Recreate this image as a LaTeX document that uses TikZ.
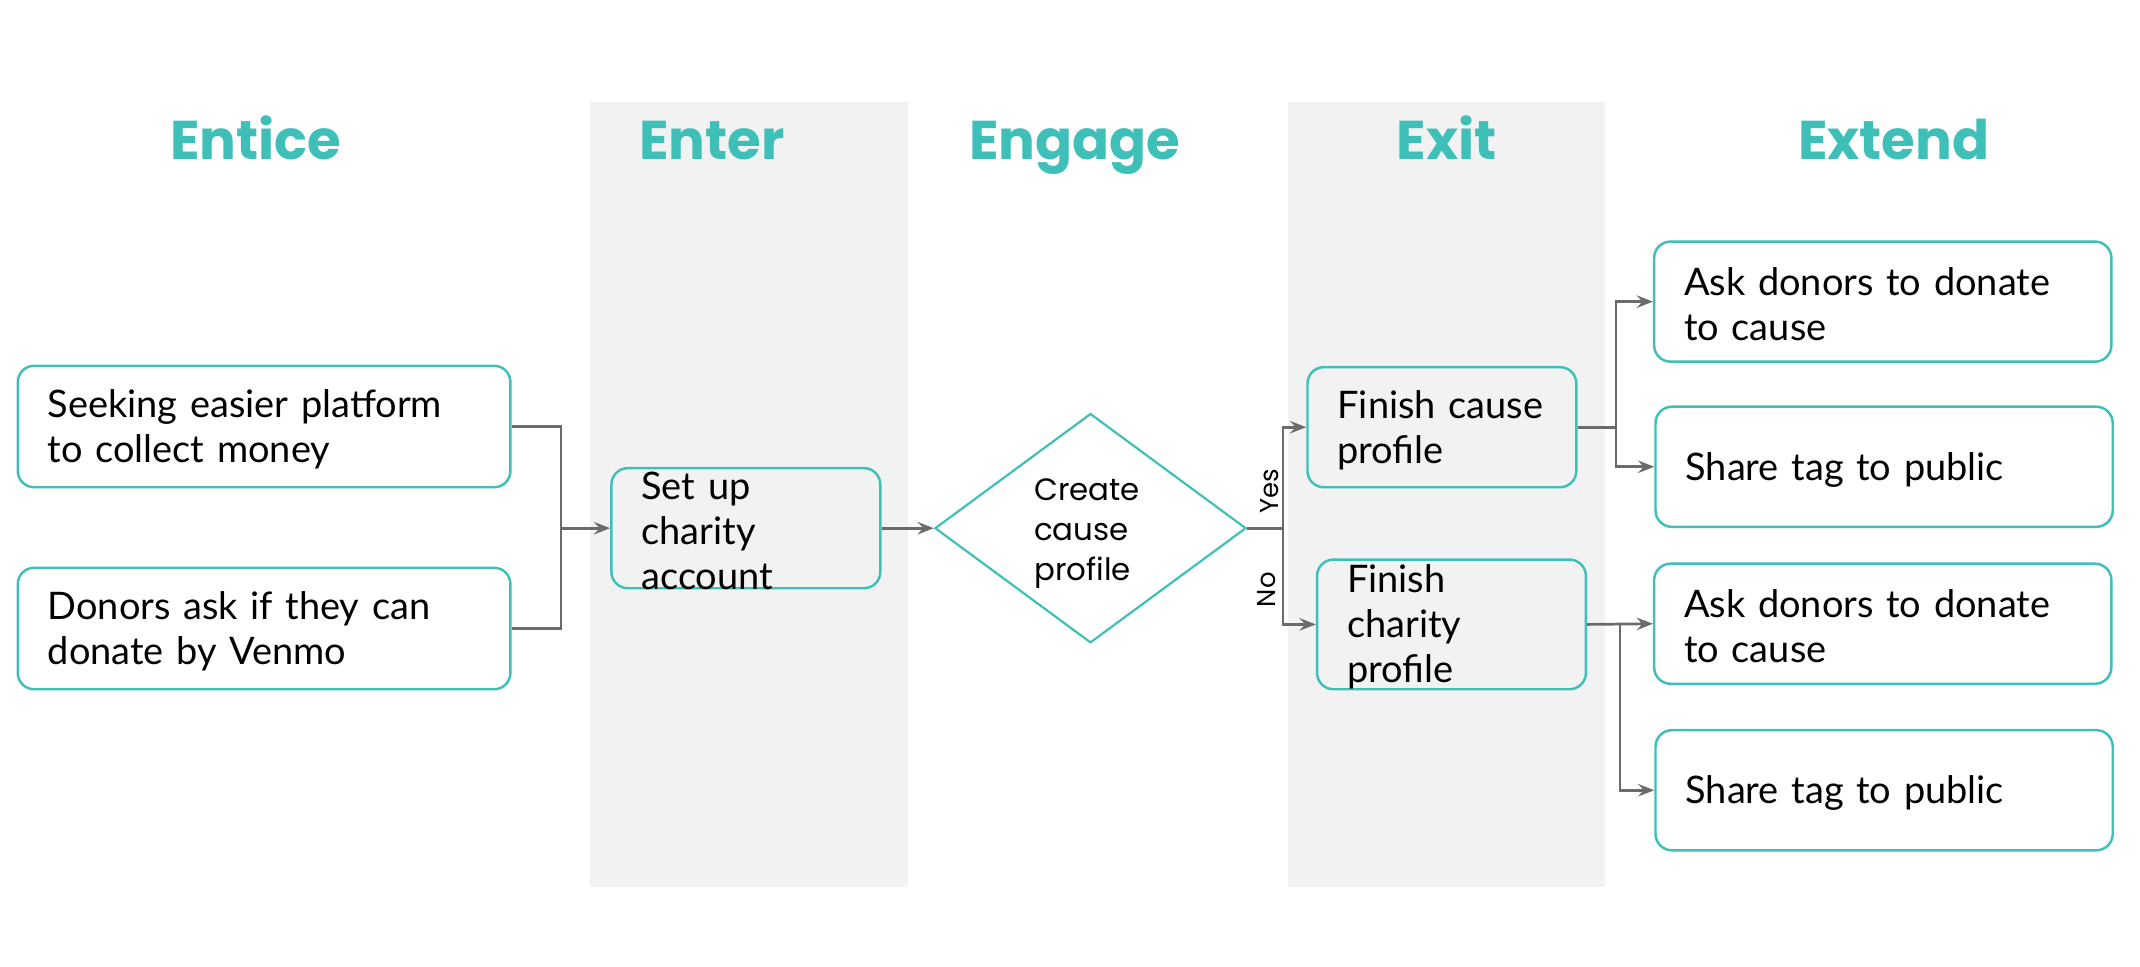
\documentclass[tikz,border=0pt]{standalone}
\usepackage{fontspec}
\setmainfont{Lato}
\newfontfamily\geo{Poppins}
\usetikzlibrary{shapes.geometric,arrows.meta}
\definecolor{teal1}{HTML}{3EC0B9}
\definecolor{band}{HTML}{F2F2F2}
\definecolor{conn}{HTML}{6B6B6B}
\tikzset{
  title/.style={font=\geo\bfseries\fontsize{20}{24}\selectfont, text=teal1, anchor=base, inner sep=0pt},
  box/.style={draw=teal1, line width=0.9pt, rounded corners=6pt, fill=white, inner sep=0pt},
  graybox/.style={box, fill=band},
  txt/.style={font=\fontsize{13.9}{16.5}\selectfont, align=left, inner sep=0pt},
  dtxt/.style={font=\geo\fontsize{11.3}{14.75}\selectfont, align=left, inner sep=0pt},
  yn/.style={font=\geo\fontsize{9.5}{11}\selectfont, rotate=90, inner sep=0pt},
  cline/.style={draw=conn, line width=1pt},
  arr/.style={cline, -{Stealth[length=6pt,width=4.6pt,inset=2.2pt]}},
}
\begin{document}
\begin{tikzpicture}[x=0.5pt,y=-0.5pt]
\useasboundingbox (0,0) rectangle (1568,708);
\fill[white] (0,0) rectangle (1568,708);
% bands
\fill[band] (432,75) rectangle (665,650);
\fill[band] (944,75) rectangle (1176,650);
% titles
\node[title] (t1) at (187.5,117) {Entice};
\node[title] (t2) at (521.5,117) {Enter};
\node[title] (t3) at (787.5,117) {Engage};
\node[title] (t4) at (1060,117) {Exit};
\node[title] (t5) at (1387.5,117) {Extend};
% boxes
\node[box, minimum width=180.5pt, minimum height=44.5pt] (b1) at (193.5,312.5) {};
\node[txt, text width=158.5pt] (b1t) at ([yshift=-1pt]b1.center) {Seeking easier platform\\to collect money};
\node[box, minimum width=180.5pt, minimum height=44.5pt] (b2) at (193.5,460.5) {};
\node[txt, text width=158.5pt] (b2t) at ([yshift=-1pt]b2.center) {Donors ask if they can\\donate by Venmo};
\node[graybox, minimum width=98.5pt, minimum height=44pt] (b3) at (546.5,387) {};
\node[txt, text width=76.5pt] (b3t) at ([yshift=-1pt]b3.center) {Set up\\charity\\account};
\node[draw=teal1, line width=0.8pt, diamond, minimum width=114pt, minimum height=84pt, inner sep=0pt, fill=white] (d) at (799,387) {};
\node[dtxt] (dt) at (796.5,391) {Create\\cause\\profile};
\node[graybox, minimum width=98.5pt, minimum height=44pt] (b4) at (1056.5,313) {};
\node[txt, text width=76.5pt] (b4t) at ([yshift=-1pt]b4.center) {Finish cause\\profile};
\node[graybox, minimum width=98.5pt, minimum height=47.5pt] (b5) at (1063.5,457.5) {};
\node[txt, text width=76.5pt] (b5t) at ([yshift=-1pt]b5.center) {Finish\\charity\\profile};
\node[box, minimum width=167.5pt, minimum height=44pt] (b6) at (1379.5,221) {};
\node[txt, text width=145.5pt] (b6t) at ([yshift=-1pt]b6.center) {Ask donors to donate\\to cause};
\node[box, minimum width=167.5pt, minimum height=44pt] (b7) at (1380.5,342) {};
\node[txt, text width=145.5pt] (b7t) at ([yshift=-1pt]b7.center) {Share tag to public};
\node[box, minimum width=167.5pt, minimum height=44pt] (b8) at (1379.5,457) {};
\node[txt, text width=145.5pt] (b8t) at ([yshift=-1pt]b8.center) {Ask donors to donate\\to cause};
\node[box, minimum width=167.5pt, minimum height=44pt] (b9) at (1380.5,579) {};
\node[txt, text width=145.5pt] (b9t) at ([yshift=-1pt]b9.center) {Share tag to public};
% junction coordinates
\coordinate (j1) at (411,387);
\coordinate (j2) at (940,387);
\coordinate (j3) at (1184,313);
\coordinate (j4) at (1187,457);
% connectors
\draw[cline] (b1.east) -| (j1) |- (b2.east);
\draw[arr] (j1) -- (b3.west);
\draw[arr] (b3.east) -- (d.west);
\draw[cline] (d.east) -- (j2);
\draw[arr] (j2) |- (b4.west);
\draw[arr] (j2) |- (b5.west);
\draw[cline] (b4.east) -- (j3);
\draw[arr] (j3) |- (b6.west);
\draw[arr] (j3) |- (b7.west);
\draw[arr] (b5.east) -- (b8.west);
\draw[arr] (j4) |- (b9.west);
% labels
\node[yn] (yes) at (930,360) {Yes};
\node[yn] (no) at (928,432) {No};
\end{tikzpicture}
\end{document}
